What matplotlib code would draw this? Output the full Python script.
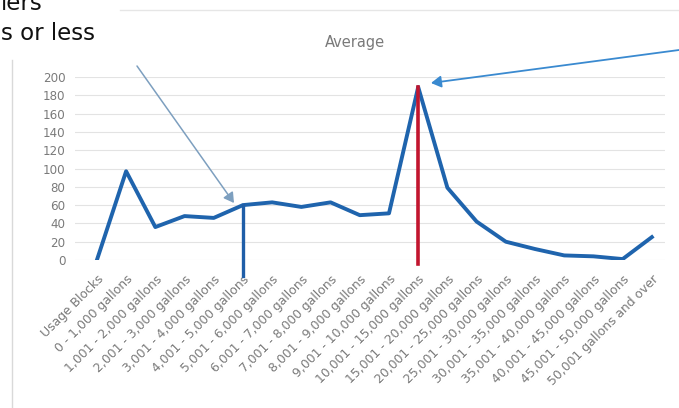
import matplotlib
matplotlib.use("Agg")
import matplotlib.pyplot as plt

categories = [
    "Usage Blocks", "0 - 1,000 gallons", "1,001 - 2,000 gallons", "2,001 - 3,000 gallons",
    "3,001 - 4,000 gallons", "4,001 - 5,000 gallons", "5,001 - 6,000 gallons",
    "6,001 - 7,000 gallons", "7,001 - 8,000 gallons", "8,001 - 9,000 gallons",
    "9,001 - 10,000 gallons", "10,001 - 15,000 gallons", "15,001 - 20,000 gallons",
    "20,001 - 25,000 gallons", "25,001 - 30,000 gallons", "30,001 - 35,000 gallons",
    "35,001 - 40,000 gallons", "40,001 - 45,000 gallons", "45,001 - 50,000 gallons",
    "50,001 gallons and over",
]
average = [0, 97, 36, 48, 46, 60, 63, 58, 63, 49, 51, 189, 79, 42, 20, 12, 5, 4, 1, 25]
yticks = list(range(0, 201, 20))
marker_blue = 5     # 4,001 - 5,000 gallons
marker_red = 11     # 10,001 - 15,000 gallons

W, H = 679, 408
fig = plt.figure(figsize=(W / 100, H / 100), dpi=100)
ax = fig.add_axes([75 / W, (H - 260) / H, (665 - 75) / W, 183 / H])

gray = "#7a7a7a"
x = list(range(len(categories)))
ax.plot(x, average, color="#1f64ad", lw=2.8, solid_joinstyle="round", zorder=3)

# vertical markers dropped from the curve
ax.plot([marker_blue, marker_blue], [average[marker_blue], -17], color="#1f5ea8",
        lw=2.4, clip_on=False, zorder=4)
ax.plot([marker_red, marker_red], [average[marker_red], -4], color="#c2152e",
        lw=2.6, clip_on=False, zorder=4)

ax.set_xlim(-0.75, 19.45)
ax.set_ylim(0, 200)
ax.set_yticks(yticks)
ax.set_xticks(x)
ax.set_xticklabels(categories, rotation=45, ha="right", rotation_mode="anchor",
                   fontsize=8.9, color=gray)
ax.tick_params(axis="y", labelsize=8.6, colors=gray, length=0, pad=7)
ax.tick_params(axis="x", length=0, pad=9)
ax.grid(axis="y", color="#e3e3e3", lw=0.8)
ax.set_axisbelow(True)
for s in ax.spines.values():
    s.set_visible(False)

fig.text(355 / W, 1 - 42 / H, "Average", fontsize=10.5, color="#7a7a7a", ha="center", va="center")

# slide text behind the chart
fig.text(0.002, 1 - 33 / H, "s or less", fontsize=16.5, color="#111111", va="center")
fig.text(0.002, 1 - 3 / H, "iers", fontsize=16.5, color="#111111", va="center")

# chart frame
fig.add_artist(plt.Line2D([12 / W, 12 / W], [0, 1 - 60 / H], transform=fig.transFigure,
                          color="#d9d9d9", lw=1.0))
fig.add_artist(plt.Line2D([120 / W, 1], [1 - 10 / H, 1 - 10 / H], transform=fig.transFigure,
                          color="#e6e6e6", lw=1.0))

# call-out arrows
fig.add_artist(matplotlib.patches.FancyArrowPatch(
    (137 / W, 1 - 66 / H), (234 / W, 1 - 203 / H), transform=fig.transFigure,
    arrowstyle="-|>,head_length=6,head_width=3.5", color="#7d9fbf", lw=1.1,
    shrinkA=0, shrinkB=0))
fig.add_artist(matplotlib.patches.FancyArrowPatch(
    (679 / W, 1 - 50 / H), (431 / W, 1 - 83 / H), transform=fig.transFigure,
    arrowstyle="-|>,head_length=6,head_width=3.5", color="#3a8ad0", lw=1.3,
    shrinkA=0, shrinkB=0))

fig.savefig("out.png", dpi=100)
